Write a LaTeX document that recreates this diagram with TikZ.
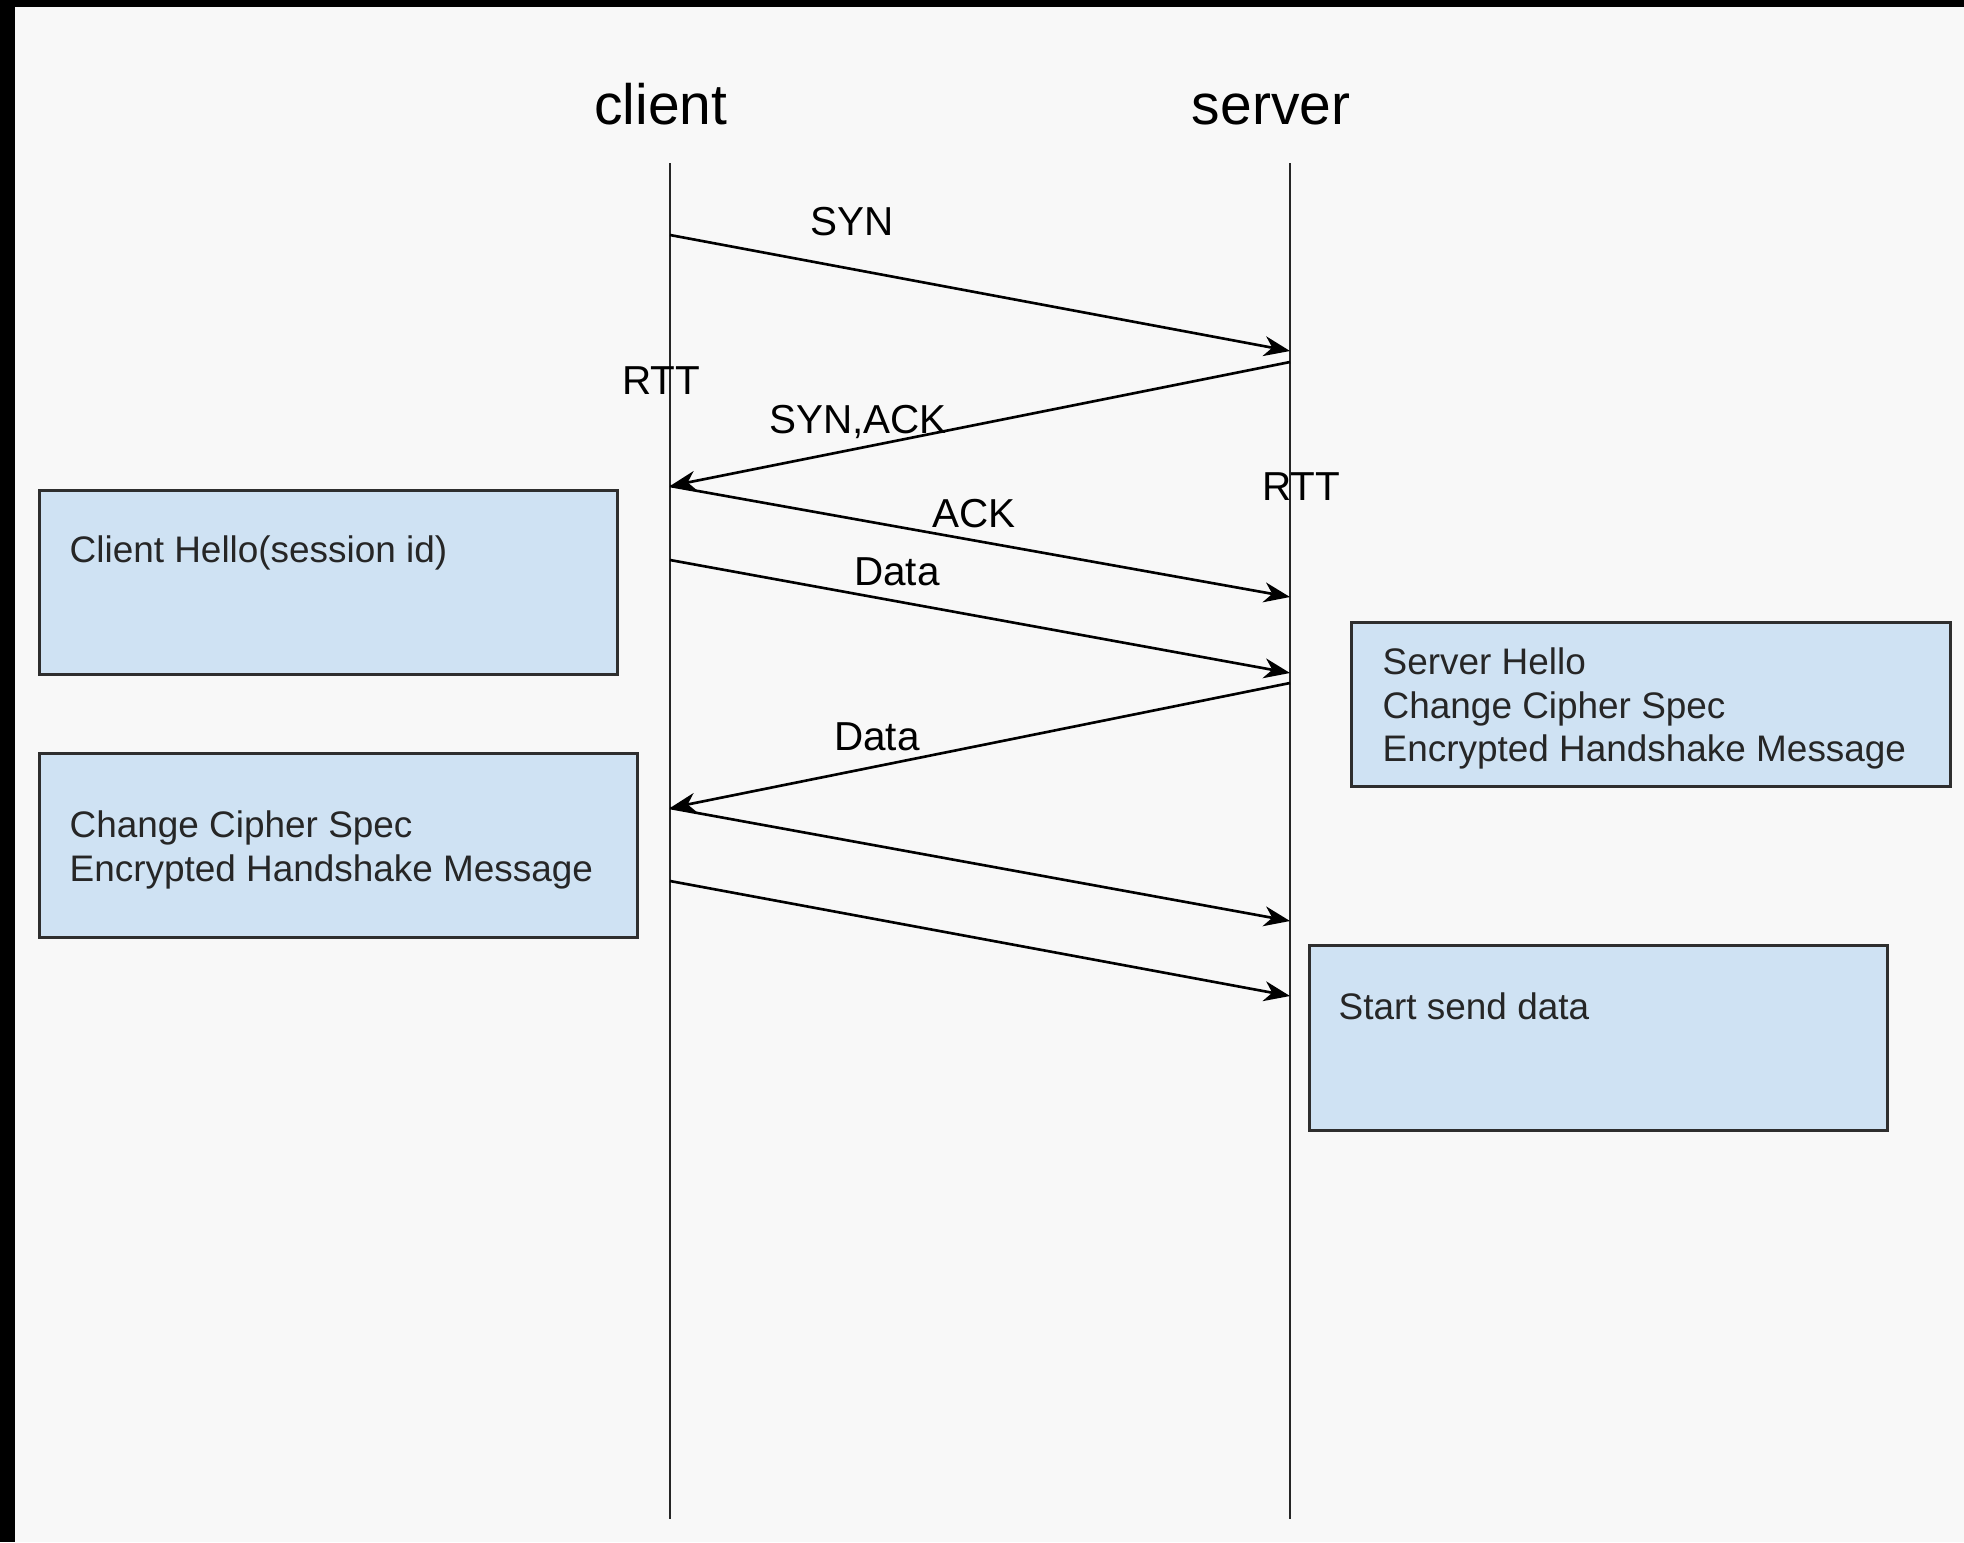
\documentclass[tikz,border=0pt]{standalone}
\usepackage{fontspec}
\setmainfont{Liberation Sans}
\usepackage{xcolor}
\usepackage{tikz}
\usetikzlibrary{arrows.meta}
\definecolor{fond}{HTML}{F8F8F8}
\definecolor{bleu}{HTML}{CFE2F3}
\definecolor{bord}{HTML}{2E2E2E}
\def\largeur{1964}
\def\hauteur{1542}
\tikzset{
	msgbox/.style={draw=bord, line width=0.8pt, fill=bleu, anchor=north west, inner sep=0pt},
	boxtxt/.style={anchor=north west, inner sep=0pt, align=left, text=black!85, font=\fontsize{10.5}{12.4}\selectfont},
	lbl/.style={inner sep=0pt, font=\fontsize{11.5}{13}\selectfont},
	titre/.style={inner sep=0pt, anchor=base, font=\fontsize{16.2}{19}\selectfont},
	msg/.style={-{Stealth[length=0.26cm, width=0.2cm, inset=0.08cm]}, line width=0.75pt},
}

\begin{document}
\begin{tikzpicture}[x=0.01cm, y=-0.01cm]
	\useasboundingbox (0,0) rectangle (\largeur,\hauteur);
	\fill[fond] (0,0) rectangle (\largeur,\hauteur);
	\fill[black] (0,0) rectangle (\largeur,7);
	\fill[black] (0,0) rectangle (15,\hauteur);
	%\draw[step=100, black!20] (0,0) grid (\largeur,\hauteur);
	\node[titre] (client) at (661,124) {client};
	\node[titre] (server) at (1271,124) {server};
	\coordinate (ctop) at (670,163);
	\coordinate (cbot) at (670,1519);
	\coordinate (stop) at (1290,163);
	\coordinate (sbot) at (1290,1519);
	\draw[line width=0.7pt, black!85] (ctop)--(cbot);
	\draw[line width=0.7pt, black!85] (stop)--(sbot);
	% points on the lifelines
	\coordinate (c1) at (670,235);
	\coordinate (s1) at (1290,351);
	\coordinate (s2) at (1290,362);
	\coordinate (c2) at (670,486);
	\coordinate (s3) at (1290,597);
	\coordinate (c3) at (670,560);
	\coordinate (s4) at (1290,673);
	\coordinate (s5) at (1290,683);
	\coordinate (c4) at (670,808);
	\coordinate (s6) at (1290,921);
	\coordinate (c5) at (670,881);
	\coordinate (s7) at (1290,996);
	\draw[msg] (c1)--(s1);
	\draw[msg] (s2)--(c2);
	\draw[msg] (c2)--(s3);
	\draw[msg] (c3)--(s4);
	\draw[msg] (s5)--(c4);
	\draw[msg] (c4)--(s6);
	\draw[msg] (c5)--(s7);
	\node[lbl] (syn) at (852,222) {SYN};
	\node[lbl] (rtta) at (661,381) {RTT};
	\node[lbl] (synack) at (858,422) {SYN,ACK};
	\node[lbl] (rttb) at (1301,487) {RTT};
	\node[lbl] (ack) at (974,514) {ACK};
	\node[lbl] (data) at (897,572) {Data};
	\node[lbl] (datab) at (877,737) {Data};
	% boxes
	\node[msgbox, minimum width=5.78cm, minimum height=1.84cm] (hello) at (38,489) {};
	\node[boxtxt] (hellot) at ([shift={(31,46)}]hello.north west) {Client Hello(session id)};
	\node[msgbox, minimum width=5.98cm, minimum height=1.84cm] (ccs) at (38,752) {};
	\node[boxtxt] (ccst) at ([shift={(31,58)}]ccs.north west) {Change Cipher Spec\\Encrypted Handshake Message};
	\node[msgbox, minimum width=5.99cm, minimum height=1.64cm] (shello) at (1350,621) {};
	\node[boxtxt] (shellot) at ([shift={(32,26)}]shello.north west) {Server Hello\\Change Cipher Spec\\Encrypted Handshake Message};
	\node[msgbox, minimum width=5.78cm, minimum height=1.85cm] (start) at (1308,944) {};
	\node[boxtxt] (startt) at ([shift={(30,48)}]start.north west) {Start send data};
\end{tikzpicture}
\end{document}
